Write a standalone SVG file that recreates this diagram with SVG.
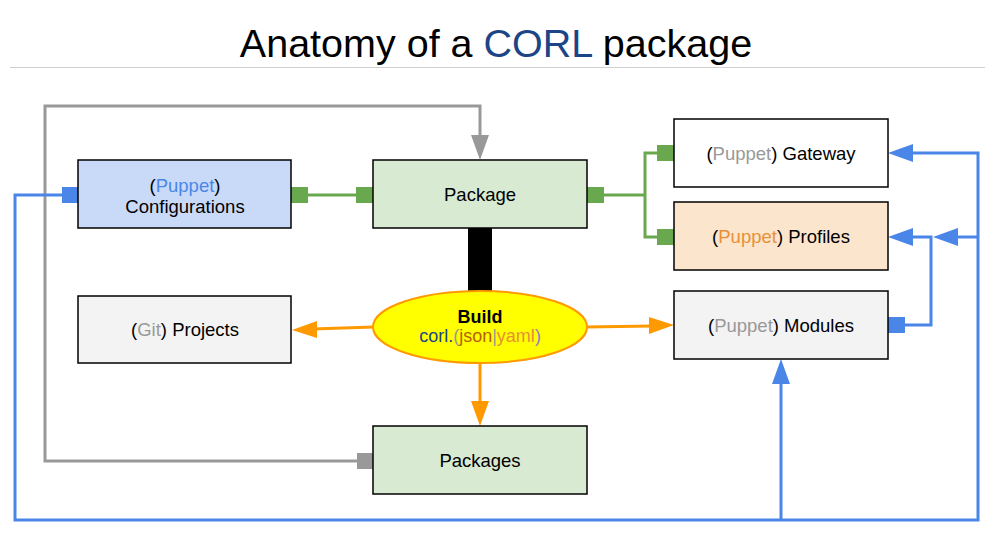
<svg xmlns="http://www.w3.org/2000/svg" width="994" height="555" viewBox="0 0 994 555">
<style>
text{font-family:"Liberation Sans",Arial,sans-serif;}
.lbl{font-size:18.5px;fill:#000;text-anchor:middle;}
.box{stroke:#000;stroke-width:1.5;}
.gray{fill:#999999;}
.g{stroke:#6aa84f;stroke-width:3;fill:none;}
.gs{fill:#6aa84f;}
.b{stroke:#4a86e8;stroke-width:3;fill:none;}
.bs{fill:#4a86e8;}
.o{stroke:#ff9900;stroke-width:3;fill:none;}
.os{fill:#ff9900;}
.gr{stroke:#999999;stroke-width:3;fill:none;}
.grs{fill:#999999;}
</style>
<rect width="994" height="555" fill="#fff"/>
<g id="title">
<text x="496" y="57" text-anchor="middle" font-size="39.5" fill="#000">Anatomy of a <tspan fill="#1c4587">CORL</tspan> package</text>
<line x1="10" y1="67.5" x2="985" y2="67.5" stroke="#d0d0d0" stroke-width="1"/>
</g>
<g id="connectors">
<polyline class="gr" points="357,461 45,461 45,106 480,106 480,136"/>
<polygon class="grs" points="471,135 489,135 480,160"/>
<rect class="grs" x="357" y="453" width="16" height="16"/>
<rect x="468" y="228" width="24" height="64" fill="#000"/>
<line class="g" x1="303" y1="195" x2="360" y2="195"/>
<rect class="gs" x="291" y="187" width="17" height="16"/>
<rect class="gs" x="356" y="187" width="17" height="16"/>
<polyline class="g" points="600,195 645,195"/>
<polyline class="g" points="660,153 645,153 645,237 660,237"/>
<rect class="gs" x="587" y="187" width="17" height="16"/>
<rect class="gs" x="657" y="145" width="17" height="16"/>
<rect class="gs" x="657" y="229" width="17" height="16"/>
<line class="o" x1="374" y1="327" x2="312" y2="329"/>
<polygon class="os" points="292,330 317,321 317,338"/>
<line class="o" x1="586" y1="327" x2="652" y2="326"/>
<polygon class="os" points="674,325 649,317 649,334"/>
<line class="o" x1="480" y1="363" x2="480" y2="404"/>
<polygon class="os" points="471,401 489,401 480,426"/>
<rect class="bs" x="62" y="187" width="16" height="16"/>
<polyline class="b" points="65,195 15,195 15,520 978,520 978,153 910,153"/>
<polygon class="bs" points="888,153 913,144 913,162"/>
<line class="b" x1="978" y1="237" x2="955" y2="237"/>
<polygon class="bs" points="933,237 958,228 958,246"/>
<line class="b" x1="781" y1="520" x2="781" y2="382"/>
<polygon class="bs" points="781,359 772,384 790,384"/>
<rect class="bs" x="888" y="317" width="17" height="16"/>
<polyline class="b" points="900,325 931,325 931,237 910,237"/>
<polygon class="bs" points="888,237 913,228 913,246"/>
</g>
<g id="configurations">
<rect class="box" x="78" y="160" width="213" height="68" fill="#c9daf8"/>
<text class="lbl" x="185" y="192">(<tspan fill="#4a86e8">Puppet</tspan>)</text>
<text class="lbl" x="185" y="213">Configurations</text>
</g>
<g id="package">
<rect class="box" x="373" y="160" width="214" height="68" fill="#d9ead3"/>
<text class="lbl" x="480" y="201">Package</text>
</g>
<g id="gateway">
<rect class="box" x="674" y="119" width="214" height="68" fill="#ffffff"/>
<text class="lbl" x="781" y="160">(<tspan class="gray">Puppet</tspan>) Gateway</text>
</g>
<g id="profiles">
<rect class="box" x="674" y="202" width="214" height="68" fill="#fce5cd"/>
<text class="lbl" x="781" y="243">(<tspan fill="#e69138">Puppet</tspan>) Profiles</text>
</g>
<g id="modules">
<rect class="box" x="674" y="291" width="214" height="68" fill="#f3f3f3"/>
<text class="lbl" x="781" y="332">(<tspan class="gray">Puppet</tspan>) Modules</text>
</g>
<g id="projects">
<rect class="box" x="78" y="296" width="213" height="67" fill="#f3f3f3"/>
<text class="lbl" x="185" y="336">(<tspan class="gray">Git</tspan>) Projects</text>
</g>
<g id="packages">
<rect class="box" x="373" y="426" width="214" height="68" fill="#d9ead3"/>
<text class="lbl" x="480" y="467">Packages</text>
</g>
<g id="build">
<ellipse cx="480" cy="327" rx="107" ry="36" fill="#ffff00" stroke="#ff9900" stroke-width="2"/>
<text x="480" y="323" text-anchor="middle" font-size="18" font-weight="bold" fill="#000">Build</text>
<text x="480" y="342" text-anchor="middle" font-size="18"><tspan fill="#1c4587">corl.</tspan><tspan fill="#999999">(</tspan><tspan fill="#b45f06">json</tspan><tspan fill="#999999">|</tspan><tspan fill="#e69138">yaml</tspan><tspan fill="#8e7cc3">)</tspan></text>
</g>
</svg>
